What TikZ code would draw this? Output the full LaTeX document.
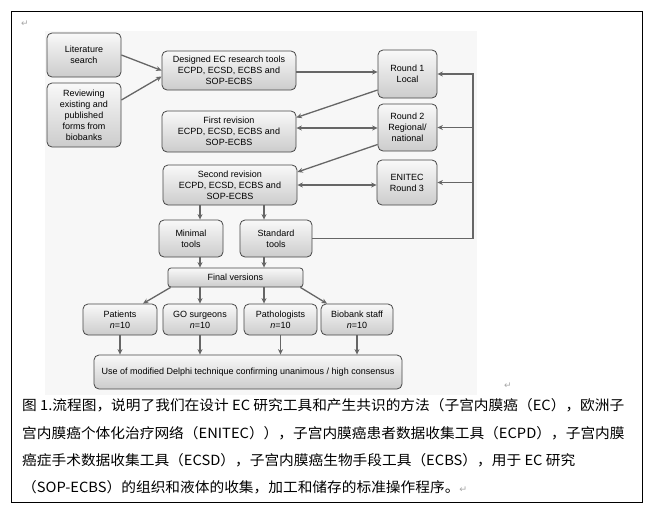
\documentclass[tikz,border=0pt]{standalone}
\usepackage{fontspec}
\setmainfont{Liberation Sans}
\newfontfamily\cjk{Noto Sans CJK SC}
\newfontfamily\markfont{DejaVu Sans}
\usetikzlibrary{arrows.meta}
\tikzset{
	box/.style={draw=gray!55!black,line width=0.8pt,rounded corners=5pt,top color=gray!5,bottom color=gray!40,align=center,inner sep=1pt,font=\fontsize{9}{11}\selectfont,text=black},
	arr/.style={-{Stealth[length=5.5pt,width=5pt]},line width=1.3pt,draw=gray!80!black},
	darr/.style={{Stealth[length=5.5pt,width=5pt]}-{Stealth[length=5.5pt,width=5pt]},line width=1.3pt,draw=gray!80!black},
	capline/.style={anchor=base west,inner sep=0pt,xscale=1.05,transform shape,font=\cjk\fontsize{14}{14}\selectfont},
	pmark/.style={text=gray!70,inner sep=0pt,font=\markfont\fontsize{9}{9}\selectfont}
}
\begin{document}
\begin{tikzpicture}[x=1pt,y=-1pt]
	\useasboundingbox (0,0) rectangle (656,506);
	\fill[gray!6] (45,31) rectangle (477,395);
	\draw[line width=0.8pt] (11.5,11.5) rectangle (642.5,502.5);
	\node[pmark] (marktop) at (25,24) {↵};
	\node[pmark] (markmid) at (508,386) {↵};
	% boxes
	\node[box,minimum width=74pt,minimum height=44pt] (lit) at (84,55) {Literature\\search};
	\node[box,minimum width=74pt,minimum height=64pt] (review) at (84,115) {Reviewing\\existing and\\published\\forms from\\biobanks};
	\node[box,minimum width=134pt,minimum height=39pt] (designed) at (229,70.5) {Designed EC research tools\\ECPD, ECSD, ECBS and\\SOP-ECBS};
	\node[box,minimum width=134pt,minimum height=41pt] (first) at (229,131.5) {First revision\\ECPD, ECSD, ECBS and\\SOP-ECBS};
	\node[box,minimum width=134pt,minimum height=40pt] (second) at (230,185) {Second revision\\ECPD, ECSD, ECBS and\\SOP-ECBS};
	\node[box,minimum width=59pt,minimum height=48pt] (rone) at (407.5,74) {Round 1\\Local};
	\node[box,minimum width=59pt,minimum height=47pt] (rtwo) at (407.5,127.5) {Round 2\\Regional/\\national};
	\node[box,minimum width=60pt,minimum height=45pt] (rthree) at (407,182.5) {ENITEC\\Round 3};
	\node[box,minimum width=64pt,minimum height=37pt] (minimal) at (191,238.5) {Minimal\\tools};
	\node[box,minimum width=72pt,minimum height=37pt] (standard) at (276,238.5) {Standard\\tools};
	\node[box,minimum width=135pt,minimum height=19pt,rounded corners=3pt] (final) at (235.5,277.5) {Final versions};
	\node[box,minimum width=74pt,minimum height=31pt] (patients) at (120,319.5) {Patients\\\textit{n}=10};
	\node[box,minimum width=74pt,minimum height=31pt] (surgeons) at (200,319.5) {GO surgeons\\\textit{n}=10};
	\node[box,minimum width=73pt,minimum height=31pt] (patho) at (280.5,319.5) {Pathologists\\\textit{n}=10};
	\node[box,minimum width=72pt,minimum height=31pt] (biobank) at (357,319.5) {Biobank staff\\\textit{n}=10};
	\node[box,minimum width=308pt,minimum height=34pt] (delphi) at (248,372) {Use of modified Delphi technique confirming unanimous / high consensus};
	\coordinate (colA) at (200,0);
	\coordinate (colB) at (264,0);
	\coordinate (fb) at (473,73.4);
	% connectors
	\draw[arr] (lit.east) -- (designed.west);
	\draw[arr] ([yshift=15pt]review.east) -- ([yshift=-6pt]designed.west);
	\draw[arr] ([yshift=-1.5pt]designed.east) -- ([yshift=-1.5pt]designed.east -| rone.west);
	\draw[arr] ([yshift=-16pt]rone.west) -- ([yshift=14pt]first.east);
	\draw[darr] ([yshift=3.5pt]first.east) -- ([yshift=3.5pt]first.east -| rtwo.west);
	\draw[arr] ([yshift=-17pt]rtwo.west) -- ([yshift=13pt]second.east);
	\draw[darr] (second.east) -- (second.east -| rthree.west);
	\draw[arr] (second.south -| colA) -- (minimal.north -| colA);
	\draw[arr] (second.south -| colB) -- (standard.north -| colB);
	\draw[arr] (minimal.south -| colA) -- (final.north -| colA);
	\draw[arr] (standard.south -| colB) -- (final.north -| colB);
	\draw[line width=1.3pt,draw=gray!80!black] (standard.east) -- (standard.east -| fb) -- (fb);
	\foreach \r in {rone,rtwo,rthree}
		\draw[arr] (fb |- \r.east) -- (\r.east);
	\draw[arr] ([xshift=3pt]final.south west) -- ([xshift=23pt]patients.north);
	\draw[arr] (final.south -| colA) -- (surgeons.north -| colA);
	\draw[arr] (final.south -| colB) -- (patho.north -| colB);
	\draw[arr] ([xshift=-3pt]final.south east) -- ([xshift=-30pt]biobank.north);
	\foreach \g in {patients,surgeons,patho,biobank}
		\draw[arr] (\g.south) -- (delphi.north -| \g.south);
	% caption
	\node[capline] (capone) at (22,410) {图 1.流程图，说明了我们在设计 EC 研究工具和产生共识的方法（子宫内膜癌（EC），欧洲子};
	\node[capline] (captwo) at (22,438) {宫内膜癌个体化治疗网络（ENITEC）），子宫内膜癌患者数据收集工具（ECPD），子宫内膜};
	\node[capline] (capthree) at (22,465) {癌症手术数据收集工具（ECSD），子宫内膜癌生物手段工具（ECBS），用于 EC 研究};
	\node[capline] (capfour) at (22,492) {（SOP-ECBS）的组织和液体的收集，加工和储存的标准操作程序。{\markfont\fontsize{9}{9}\selectfont\color{gray!70}↵}};
\end{tikzpicture}
\end{document}
